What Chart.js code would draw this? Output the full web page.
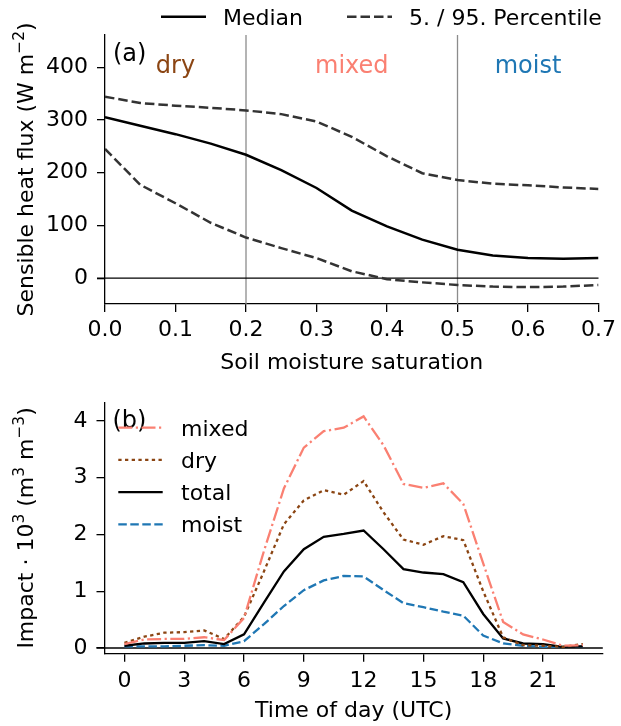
<!DOCTYPE html>
<html>
<head>
<meta charset="utf-8">
<title>Sensible heat flux and impact</title>
<script src="https://cdn.jsdelivr.net/npm/chart.js@4.4.0/dist/chart.umd.min.js"></script>
<style>
    html, body { margin: 0; padding: 0; background: #fff; }
    #wrap { position: relative; width: 621px; height: 726px; }
    #fluxChart { position: absolute; left: 0; top: 0; }
    #impactChart { position: absolute; left: 0; top: 380px; }
</style>
</head>
<body>
<div id="wrap">
    <canvas id="fluxChart" width="621" height="380"></canvas>
    <canvas id="impactChart" width="621" height="346"></canvas>
</div>
<script>
// ---- panel (a) data ----
const saturation = [0, 0.05, 0.1, 0.15, 0.2, 0.25, 0.3, 0.35, 0.4, 0.45, 0.5, 0.55, 0.6, 0.65, 0.7];
const fluxMedian = [305, 289, 273, 255, 234, 205, 171, 128, 98, 73, 54, 43, 38, 37, 38];
const fluxP95 = [344, 332, 327, 323, 318, 311, 297, 268, 231, 199, 186, 179, 176, 172, 169];
const fluxP5 = [245, 177, 142, 105, 77, 57, 38, 13, -2, -8, -13, -16, -17, -16, -13];
const saturationTicks = [0, 0.1, 0.2, 0.3, 0.4, 0.5, 0.6, 0.7];
const fluxTicks = [0, 100, 200, 300, 400];
const regionNames = ['dry', 'mixed', 'moist'];
const regionCenters = [0.1, 0.35, 0.6];
const regionBounds = [0.2, 0.5];

// ---- panel (b) data ----
const hours = [0, 1, 2, 3, 4, 5, 6, 7, 8, 9, 10, 11, 12, 13, 14, 15, 16, 17, 18, 19, 20, 21, 22, 23];
const impactMixed = [0.07, 0.15, 0.16, 0.16, 0.19, 0.14, 0.53, 1.71, 2.81, 3.53, 3.82, 3.88, 4.08, 3.57, 2.89, 2.82, 2.90, 2.54, 1.49, 0.46, 0.24, 0.15, 0.04, 0.05];
const impactDry = [0.09, 0.20, 0.27, 0.28, 0.31, 0.16, 0.55, 1.35, 2.18, 2.60, 2.78, 2.70, 2.94, 2.39, 1.91, 1.82, 1.97, 1.90, 1.00, 0.19, 0.05, 0.04, 0.02, 0.07];
const impactTotal = [0.04, 0.08, 0.09, 0.09, 0.12, 0.07, 0.24, 0.80, 1.35, 1.74, 1.96, 2.01, 2.07, 1.74, 1.39, 1.33, 1.30, 1.16, 0.60, 0.17, 0.08, 0.07, 0.02, 0.03];
const impactMoist = [0.03, 0.03, 0.03, 0.04, 0.05, 0.04, 0.12, 0.42, 0.74, 1.02, 1.19, 1.27, 1.26, 1.02, 0.79, 0.72, 0.64, 0.57, 0.22, 0.08, 0.04, 0.02, 0.02, 0.03];
const hourTicks = [0, 3, 6, 9, 12, 15, 18, 21];
const impactTicks = [0, 1, 2, 3, 4];

const FONT = '"DejaVu Sans", sans-serif';
const regionColors = { dry: '#8b4513', mixed: '#fa8072', moist: '#1f77b4' };

Chart.defaults.font.family = FONT;
Chart.defaults.font.size = 22;
Chart.defaults.color = '#000';

const toPoints = (xs, ys) => xs.map((x, i) => ({ x: x, y: ys[i] }));

// shared axis look: left + bottom spines, outward ticks, no grid
function axis(extra) {
    return Object.assign({
        type: 'linear',
        grid: { drawOnChartArea: false, drawTicks: true, tickLength: 8, color: '#000', lineWidth: 1.3 },
        border: { display: true, color: '#000', width: 1.3 },
    }, extra);
}

// y title with real superscripts, drawn rotated; parts = [text, isSuperscript]
function drawYTitle(ctx, parts, cx, cy) {
    const big = '22px ' + FONT, small = '15.4px ' + FONT;
    let total = 0;
    parts.forEach(([t, sup]) => { ctx.font = sup ? small : big; total += ctx.measureText(t).width; });
    ctx.save();
    ctx.translate(cx, cy);
    ctx.rotate(-Math.PI / 2);
    ctx.textAlign = 'left';
    ctx.textBaseline = 'alphabetic';
    ctx.fillStyle = '#000';
    let pos = -total / 2;
    parts.forEach(([t, sup]) => {
        ctx.font = sup ? small : big;
        ctx.fillText(t, pos, sup ? -8.5 : 0);
        pos += ctx.measureText(t).width;
    });
    ctx.restore();
}

// zero line, region separators, panel letters, y title and hand-drawn legends
const decor = {
    id: 'decor',
    beforeDatasetsDraw(chart, args, opts) {
        const { ctx, chartArea: a, scales: { x, y } } = chart;
        ctx.save();
        ctx.lineWidth = 1.3;
        (opts.vlines || []).forEach(v => {
            const px = x.getPixelForValue(v);
            ctx.strokeStyle = '#8c8c8c';
            ctx.beginPath();
            ctx.moveTo(px, a.top);
            ctx.lineTo(px, a.bottom);
            ctx.stroke();
        });
        const y0 = y.getPixelForValue(0);
        ctx.strokeStyle = '#000';
        ctx.beginPath();
        ctx.moveTo(a.left - 8, y0);
        ctx.lineTo(a.right, y0);
        ctx.stroke();
        ctx.restore();
    },
    afterDraw(chart, args, opts) {
        const { ctx, chartArea: a, scales: { x } } = chart;
        drawYTitle(ctx, opts.yTitle, 32.5, (a.top + a.bottom) / 2);

        ctx.save();
        ctx.textBaseline = 'alphabetic';
        ctx.fillStyle = '#000';
        ctx.font = '24px ' + FONT;
        ctx.textAlign = 'left';
        ctx.fillText(opts.letter, a.left + 8, a.top + 25.5);

        (opts.regions || []).forEach((name, i) => {
            ctx.font = '24px ' + FONT;
            ctx.textAlign = 'center';
            ctx.fillStyle = regionColors[name];
            ctx.fillText(name, x.getPixelForValue(regionCenters[i]), a.top + 38.3);
        });

        ctx.font = '22px ' + FONT;
        ctx.textAlign = 'left';
        (opts.legend || []).forEach(item => {
            ctx.strokeStyle = item.color;
            ctx.lineWidth = item.width;
            ctx.setLineDash(item.dash);
            ctx.beginPath();
            ctx.moveTo(item.x0, item.y);
            ctx.lineTo(item.x1, item.y);
            ctx.stroke();
            ctx.setLineDash([]);
            ctx.fillStyle = '#000';
            ctx.fillText(item.label, item.tx, item.y + 7.8);
        });
        ctx.restore();
    }
};

// ---- panel (a) ----
const fluxSets = [
    { label: 'Median', data: toPoints(saturation, fluxMedian), borderColor: '#000', borderWidth: 2.5, borderDash: [] },
    { label: '5. / 95. Percentile', data: toPoints(saturation, fluxP95), borderColor: '#333', borderWidth: 2.5, borderDash: [9.5, 4] },
    { label: '5. / 95. Percentile', data: toPoints(saturation, fluxP5), borderColor: '#333', borderWidth: 2.5, borderDash: [9.5, 4] }
];

new Chart(document.getElementById('fluxChart'), {
    type: 'line',
    data: { datasets: fluxSets.map(d => Object.assign({ pointRadius: 0, tension: 0, fill: false }, d)) },
    options: {
        responsive: false,
        animation: false,
        layout: { padding: { top: 35, right: 19, left: 0, bottom: 0 } },
        scales: {
            x: axis({
                min: 0, max: 0.7,
                afterBuildTicks: s => { s.ticks = saturationTicks.map(v => ({ value: v })); },
                afterFit: s => { s.height = 76; },
                ticks: { padding: 5, maxRotation: 0, autoSkip: false, callback: v => Number(v).toFixed(1) },
                title: { display: true, text: 'Soil moisture saturation', padding: { top: 0, bottom: 3.4 } }
            }),
            y: axis({
                min: -49, max: 461,
                afterBuildTicks: s => { s.ticks = fluxTicks.map(v => ({ value: v })); },
                afterFit: s => { s.width = 105; },
                ticks: { padding: 9 }
            })
        },
        plugins: {
            legend: { display: false },
            tooltip: { enabled: false },
            decor: {
                letter: '(a)',
                yTitle: [['Sensible heat flux (W m', false], ['−2', true], [')', false]],
                vlines: regionBounds,
                regions: regionNames,
                legend: [
                    { label: fluxSets[0].label, color: '#000', width: 2.5, dash: [], x0: 161, x1: 206, tx: 223, y: 16.7 },
                    { label: fluxSets[1].label, color: '#333', width: 2.5, dash: [9.5, 4], x0: 347, x1: 392, tx: 409, y: 16.7 }
                ]
            }
        }
    },
    plugins: [decor]
});

// ---- panel (b) ----
const impactSets = [
    { label: 'mixed', data: toPoints(hours, impactMixed), borderColor: regionColors.mixed, borderDash: [14, 3.5, 2.2, 3.5] },
    { label: 'dry', data: toPoints(hours, impactDry), borderColor: regionColors.dry, borderDash: [3.3, 3.4] },
    { label: 'total', data: toPoints(hours, impactTotal), borderColor: '#000', borderDash: [] },
    { label: 'moist', data: toPoints(hours, impactMoist), borderColor: regionColors.moist, borderDash: [8.5, 3.5] }
];

const impactLegend = impactSets.map((d, i) => ({
    label: d.label, color: d.borderColor, width: 2.3, dash: d.borderDash,
    x0: 118.3, x1: 162.7, tx: 181, y: 47.7 + i * 32.2
}));

new Chart(document.getElementById('impactChart'), {
    type: 'line',
    data: { datasets: impactSets.map(d => Object.assign({ pointRadius: 0, tension: 0, fill: false, borderWidth: 2.3 }, d)) },
    options: {
        responsive: false,
        animation: false,
        layout: { padding: { top: 4, right: 18.2, left: 0, bottom: 0 } },
        scales: {
            x: axis({
                min: -1, max: 24,
                afterBuildTicks: s => { s.ticks = hourTicks.map(v => ({ value: v })); },
                afterFit: s => { s.height = 72.3; },
                ticks: { padding: 6.5, maxRotation: 0, autoSkip: false },
                title: { display: true, text: 'Time of day (UTC)', padding: { top: 0, bottom: 1.4 } }
            }),
            y: axis({
                min: -0.1, max: 4.33,
                afterBuildTicks: s => { s.ticks = impactTicks.map(v => ({ value: v })); },
                afterFit: s => { s.width = 104.5; },
                ticks: { padding: 9 }
            })
        },
        plugins: {
            legend: { display: false },
            tooltip: { enabled: false },
            decor: {
                letter: '(b)',
                yTitle: [['Impact · 10', false], ['3', true], [' (m', false], ['3', true], [' m', false], ['−3', true], [')', false]],
                legend: impactLegend
            }
        }
    },
    plugins: [decor]
});
</script>
</body>
</html>
